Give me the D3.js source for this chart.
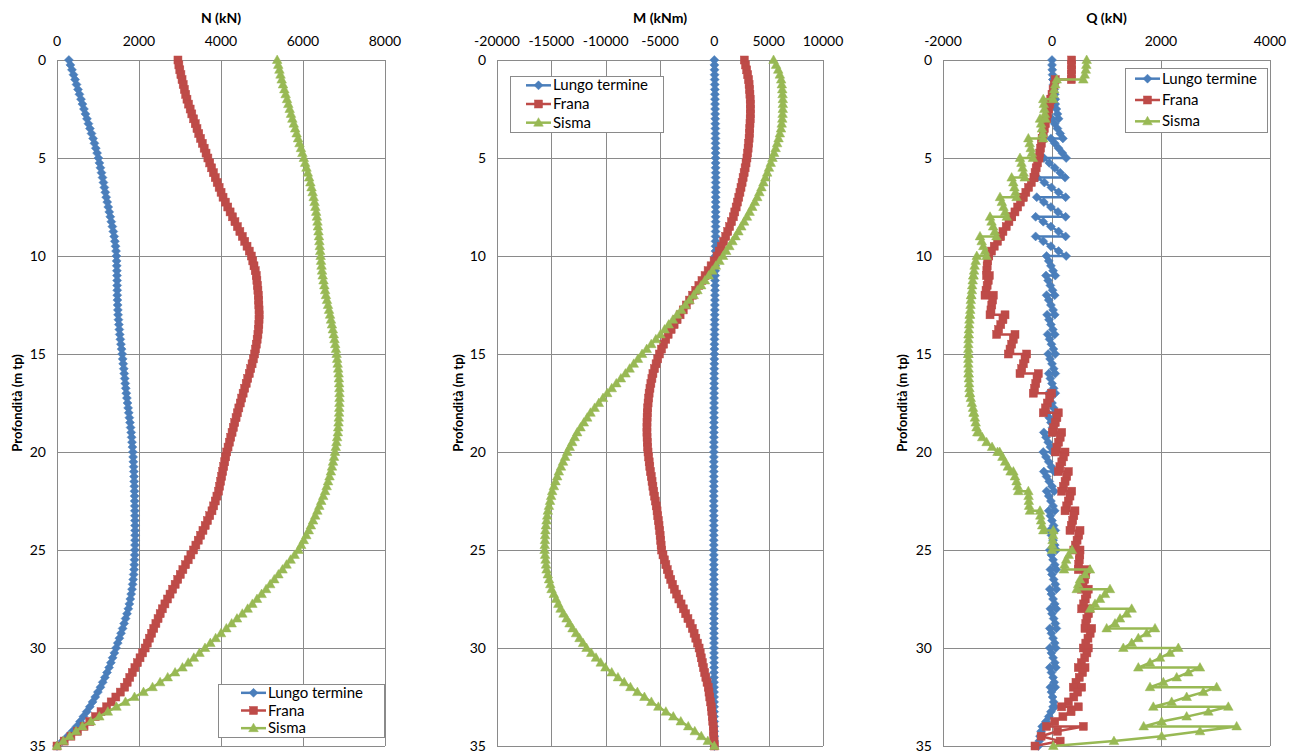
<!DOCTYPE html>
<html>
<head>
<meta charset="utf-8">
<script src="https://cdnjs.cloudflare.com/ajax/libs/d3/7.8.5/d3.min.js"></script>
<style>
  body { margin: 0; background: #fff; }
  text { font-family: Lato, "Liberation Sans", sans-serif; fill: #000; }
</style>
</head>
<body>
<svg id="chart" width="1290" height="754"></svg>
<script>
// depth of the N and M points (m)
const depth = [0,0.25,0.5,0.75,1,1.25,1.5,1.75,2,2.25,2.5,2.75,3,3.25,3.5,3.75,4,4.25,4.5,4.75,5,
  5.25,5.5,5.75,6,6.25,6.5,6.75,7,7.25,7.5,7.75,8,8.25,8.5,8.75,9,9.25,9.5,9.75,10,
  10.25,10.5,10.75,11,11.25,11.5,11.75,12,12.25,12.5,12.75,13,13.25,13.5,13.75,14,14.25,14.5,14.75,15,
  15.25,15.5,15.75,16,16.25,16.5,16.75,17,17.25,17.5,17.75,18,18.25,18.5,18.75,19,19.25,19.5,19.75,20,
  20.25,20.5,20.75,21,21.25,21.5,21.75,22,22.25,22.5,22.75,23,23.25,23.5,23.75,24,24.25,24.5,24.75,25,
  25.25,25.5,25.75,26,26.25,26.5,26.75,27,27.25,27.5,27.75,28,28.25,28.5,28.75,29,29.25,29.5,29.75,30,
  30.25,30.5,30.75,31,31.25,31.5,31.75,32,32.25,32.5,32.75,33,33.25,33.5,33.75,34,34.25,34.5,34.75,35];

// N (kN)
const nLungo = [290,327,364,402,440, 476,512,548,585, 621,657,694,730, 767,804,842,880, 913,946,978,1010,
  1035,1060,1085,1110, 1133,1155,1178,1200, 1225,1250,1275,1300, 1325,1350,1373,1395, 1412,1428,1440,1450,
  1454,1458,1461,1464, 1466,1467,1469,1470, 1474,1479,1484,1490, 1499,1509,1520,1530, 1545,1560,1575,1590,
  1602,1615,1628,1640, 1652,1665,1677,1690, 1705,1720,1735,1750, 1765,1780,1795,1810, 1820,1830,1840,1850,
  1857,1863,1869,1875, 1879,1883,1887,1890, 1893,1895,1898,1900, 1901,1903,1904,1905, 1905,1904,1902,1900,
  1896,1891,1886,1880, 1870,1858,1845,1830, 1810,1788,1765,1740, 1708,1673,1637,1600, 1562,1522,1481,1440,
  1399,1357,1314,1270, 1220,1168,1115,1060, 997,933,867,800, 724,645,563,480, 375,260,135,0];
const nFrana = [2950,2972,2995,3022,3050, 3078,3107,3138,3170, 3208,3248,3288,3330, 3372,3414,3457,3500, 3545,3590,3635,3680,
  3725,3770,3815,3860, 3907,3955,4002,4050, 4107,4165,4222,4280, 4340,4400,4460,4520, 4578,4635,4690,4740,
  4775,4805,4835,4860, 4875,4888,4900,4910, 4917,4923,4928,4930, 4928,4923,4913,4900, 4882,4862,4842,4820,
  4790,4758,4725,4690, 4652,4615,4578,4540, 4505,4470,4435,4400, 4368,4335,4302,4270, 4237,4205,4172,4140,
  4115,4090,4065,4040, 4015,3990,3965,3940, 3900,3860,3820,3780, 3725,3670,3615,3560, 3502,3445,3387,3330,
  3265,3200,3135,3070, 3007,2945,2882,2820, 2757,2695,2632,2570, 2517,2465,2412,2360, 2307,2255,2202,2150,
  2087,2025,1962,1900, 1837,1775,1712,1650, 1545,1435,1322,1210, 1075,938,800,660, 500,340,175,0];
const nSisma = [5370,5397,5425,5452,5480, 5512,5545,5577,5610, 5642,5675,5707,5740, 5775,5810,5845,5880, 5915,5950,5985,6020,
  6052,6085,6117,6150, 6180,6208,6235,6260, 6282,6302,6322,6340, 6353,6365,6378,6390, 6400,6410,6420,6430,
  6440,6452,6465,6480, 6500,6520,6540,6560, 6585,6610,6635,6660, 6683,6706,6728,6750, 6768,6786,6804,6820,
  6833,6846,6858,6870, 6876,6882,6887,6890, 6890,6888,6884,6880, 6873,6866,6858,6850, 6833,6816,6798,6780,
  6757,6732,6707,6680, 6647,6612,6577,6540, 6493,6445,6398,6350, 6298,6245,6192,6140, 6080,6018,5955,5890,
  5795,5697,5598,5500, 5400,5300,5200,5100, 4990,4878,4765,4650, 4520,4390,4260,4130, 4000,3870,3740,3610,
  3475,3338,3200,3060, 2880,2700,2515,2330, 2110,1890,1670,1450, 1240,1032,825,620, 465,310,155,0];

// M (kNm)
const mLungo = [0,8,16,24,32, 40,47,54,61, 68,74,80,86, 91,96,100,104, 108,111,114,117,
  119,121,123,124, 125,126,126,126, 126,125,124,122, 120,118,115,112, 109,105,101,97,
  92,88,83,78, 73,68,63,58, 53,48,43,38, 33,28,24,20, 16,12,8,4,
  1,-2,-5,-8, -11,-14,-17,-20, -23,-26,-28,-30, -32,-34,-36,-38, -40,-42,-43,-44,
  -45,-46,-47,-48, -49,-50,-50,-51, -51,-51,-52,-52, -52,-52,-52,-52, -51,-51,-50,-50,
  -49,-48,-47,-46, -45,-44,-43,-42, -41,-40,-39,-38, -37,-36,-35,-34, -33,-32,-31,-30,
  -29,-28,-27,-26, -25,-24,-23,-22, -21,-19,-17,-15, -13,-11,-9,-7, -5,-4,-2,0];
const mFrana = [2760,2870,2975,3065,3150, 3200,3240,3275,3300, 3310,3315,3312,3300, 3282,3260,3232,3200, 3155,3110,3058,3000,
  2920,2835,2745,2650, 2555,2455,2355,2250, 2130,2010,1883,1750, 1580,1405,1230,1050, 850,650,450,250,
  -20,-295,-570,-850, -1137,-1425,-1712,-2000, -2287,-2575,-2862,-3150, -3425,-3700,-3975,-4250, -4470,-4670,-4860,-5050,
  -5210,-5360,-5505,-5650, -5745,-5840,-5925,-6000, -6050,-6095,-6135,-6170, -6185,-6195,-6200,-6200, -6190,-6170,-6140,-6100,
  -6050,-5995,-5940,-5880, -5805,-5730,-5655,-5580, -5502,-5425,-5347,-5270, -5210,-5150,-5090,-5030, -4985,-4940,-4895,-4850,
  -4725,-4595,-4462,-4330, -4175,-4015,-3850,-3680, -3475,-3265,-3060,-2850, -2640,-2430,-2225,-2020, -1860,-1705,-1550,-1400,
  -1300,-1200,-1100,-1000, -890,-780,-670,-560, -490,-420,-350,-280, -235,-190,-145,-100, -75,-50,-25,0];
const mSisma = [5450,5680,5880,6030,6150, 6210,6250,6280,6300, 6305,6300,6280,6250, 6200,6135,6030,5910, 5780,5640,5500,5350,
  5190,5030,4865,4700, 4520,4335,4145,3950, 3720,3490,3245,3000, 2740,2480,2215,1950, 1665,1380,1090,800,
  470,140,-190,-520, -865,-1210,-1555,-1900, -2280,-2665,-3045,-3430, -3815,-4200,-4580,-4960, -5380,-5805,-6225,-6650,
  -7030,-7415,-7795,-8180, -8600,-9020,-9440,-9860, -10245,-10630,-11015,-11400, -11700,-12010,-12315,-12620, -12850,-13080,-13310,-13540,
  -13730,-13925,-14115,-14310, -14460,-14615,-14765,-14920, -15020,-15120,-15220,-15320, -15380,-15440,-15495,-15550, -15570,-15590,-15605,-15620,
  -15575,-15530,-15485,-15440, -15325,-15210,-15095,-14980, -14770,-14565,-14355,-14150, -13875,-13600,-13325,-13050, -12725,-12405,-12080,-11760,
  -11325,-10890,-10455,-10020, -9445,-8870,-8295,-7720, -7080,-6435,-5795,-5150, -4460,-3775,-3085,-2400, -1800,-1200,-600,0];

// depth of the Q points (m): every node is listed twice (value above / below)
const qDepth = [0,0.25,0.5,0.75,1, 1,1.25,1.5,1.75,2, 2,2.25,2.5,2.75,3, 3,3.25,3.5,3.75,4, 4,4.25,4.5,4.75,5,
  5,5.25,5.5,5.75,6, 6,6.25,6.5,6.75,7, 7,7.25,7.5,7.75,8, 8,8.25,8.5,8.75,9, 9,9.25,9.5,9.75,10,
  10,10.25,10.5,10.75,11, 11,11.25,11.5,11.75,12, 12,12.25,12.5,12.75,13, 13,13.25,13.5,13.75,14, 14,14.25,14.5,14.75,15,
  15,15.25,15.5,15.75,16, 16,16.25,16.5,16.75,17, 17,17.25,17.5,17.75,18, 18,18.25,18.5,18.75,19, 19,19.25,19.5,19.75,20,
  20,20.25,20.5,20.75,21, 21,21.25,21.5,21.75,22, 22,22.25,22.5,22.75,23, 23,23.25,23.5,23.75,24, 24,24.25,24.5,24.75,25,
  25,25.25,25.5,25.75,26, 26,26.25,26.5,26.75,27, 27,27.25,27.5,27.75,28, 28,28.25,28.5,28.75,29, 29,29.25,29.5,29.75,30,
  30,30.25,30.5,30.75,31, 31,31.25,31.5,31.75,32, 32,32.25,32.5,32.75,33, 33,33.25,33.5,33.75,34, 34,34.25,34.5,34.75,35];

// Q (kN)
const qLungo = [0,0,5,10,20, 20,30,40,50,60, 40,60,80,100,120, 0,50,100,150,200, -20,50,120,190,260,
  -150,-50,50,150,240, -270,-140,-10,120,250, -280,-150,-20,110,250, -300,-160,-20,120,250, -300,-160,-20,120,260,
  -100,-60,-20,20,60, -110,-70,-30,10,50, -100,-60,-20,20,50, -90,-55,-20,15,50, -80,-45,-10,25,60,
  -70,-35,0,30,60, -60,-30,0,30,60, -60,-30,0,30,60, -80,-50,-20,10,40, -150,-110,-70,-30,10,
  -160,-110,-60,-10,40, -150,-100,-50,0,40, -100,-60,-20,20,50, -60,-30,0,30,60, -40,-10,20,50,80,
  -40,-10,20,50,80, -30,0,30,60,80, -40,-10,20,50,80, -30,0,30,60,80, -40,-10,20,50,70,
  -40,-10,20,50,70, -40,-10,20,40,60, -30,-10,10,30,50, 20,-20,-60,-110,-160, -180,-200,-220,-235,-250];
const qFrana = [360,360,360,358,355, 60,40,20,0,-20, -20,-40,-60,-80,-100, -100,-120,-140,-160,-180, -180,-195,-210,-225,-240,
  -240,-265,-290,-310,-330, -330,-380,-430,-480,-530, -530,-580,-630,-680,-740, -740,-790,-840,-900,-950, -950,-1000,-1060,-1110,-1160,
  -1170,-1180,-1190,-1195,-1200, -1150,-1170,-1190,-1210,-1229, -1076,-1090,-1105,-1120,-1137, -862,-900,-940,-980,-1015, -679,-710,-740,-770,-801,
  -465,-495,-525,-556,-587, -251,-275,-298,-320,-343, -6,-45,-85,-120,-159, 116,90,60,30,5, 178,150,120,90,61,
  239,210,180,145,116, 300,270,240,210,178, 361,330,300,270,239, 422,400,380,355,330, 514,490,460,430,400,
  514,510,500,490,483, 636,620,600,570,544, 666,640,610,580,544, 697,670,640,620,605, 728,700,660,620,575,
  666,640,600,540,483, 606,560,500,440,391, 544,470,400,300,177, 483,350,200,50,-100, 575,100,-200,150,-312];
const qSisma = [636,630,620,600,575, 86,60,40,30,20, -160,-150,-140,-130,-120, -220,-200,-185,-170,-160, -434,-410,-390,-370,-350,
  -587,-560,-540,-520,-500, -740,-710,-690,-670,-650, -954,-920,-890,-860,-830, -1137,-1110,-1080,-1050,-1020, -1321,-1290,-1260,-1230,-1200,
  -1380,-1400,-1420,-1430,-1440, -1445,-1455,-1465,-1470,-1480, -1485,-1490,-1495,-1500,-1505, -1510,-1515,-1520,-1525,-1530, -1530,-1532,-1535,-1535,-1535,
  -1535,-1535,-1535,-1530,-1530, -1530,-1525,-1520,-1515,-1510, -1505,-1490,-1470,-1450,-1440, -1430,-1415,-1400,-1385,-1370, -1340,-1280,-1200,-1100,-1000,
  -960,-910,-860,-810,-760, -709,-680,-650,-630,-618, -434,-430,-425,-420,-404, -220,-215,-200,-180,-159, 25,20,10,5,0,
  367,306,260,230,220, 697,606,514,480,453, 1064,972,881,789,697, 1462,1370,1248,1156,1003, 1890,1737,1584,1462,1309,
  2318,2165,1982,1798,1584, 2715,2502,2288,2043,1798, 3021,2777,2471,2196,1859, 3235,2869,2471,2012,1682, 3388,2716,2012,1137,24];

const seriesNames = ["Lungo termine", "Frana", "Sisma"];
const seriesColors = ["#4A7EBB", "#BE4B48", "#98B954"];
const seriesMarkers = ["diamond", "square", "triangle"];

const nTicks = [0, 2000, 4000, 6000, 8000];
const mTicks = [-20000, -15000, -10000, -5000, 0, 5000, 10000];
const qTicks = [-2000, 0, 2000, 4000];
const depthTicks = [0, 5, 10, 15, 20, 25, 30, 35];

const panels = [
  { title: "N (kN)", left: 57, right: 385, ticks: nTicks, depth: depth,
    series: [nLungo, nFrana, nSisma], legend: { x: 218, y: 684, w: 166, h: 53, pad: 23 }, ylabelX: 17 },
  { title: "M (kNm)", left: 497, right: 823, ticks: mTicks, depth: depth,
    series: [mLungo, mFrana, mSisma], legend: { x: 510, y: 76, w: 153, h: 56, pad: 16 }, ylabelX: 458 },
  { title: "Q (kN)", left: 943, right: 1270, ticks: qTicks, depth: qDepth,
    series: [qLungo, qFrana, qSisma], legend: { x: 1125, y: 68, w: 142, h: 64, pad: 10 }, ylabelX: 902 }
];

const plotTop = 60, plotBottom = 746;
const svg = d3.select("#chart");
const y = d3.scaleLinear().domain([0, 35]).range([plotTop, plotBottom]);
const crisp = v => Math.round(v) + 0.5;

function drawMarker(g, type, color, cx, cy) {
  if (type === "diamond") {
    g.append("path").attr("d", `M${cx},${cy - 4.5}L${cx + 4.5},${cy}L${cx},${cy + 4.5}L${cx - 4.5},${cy}Z`)
      .attr("fill", color).attr("stroke", color).attr("stroke-width", 0.5);
  } else if (type === "square") {
    g.append("rect").attr("x", cx - 4).attr("y", cy - 4).attr("width", 8).attr("height", 8)
      .attr("fill", color).attr("stroke", color).attr("stroke-width", 0.5);
  } else {
    g.append("path").attr("d", `M${cx},${cy - 5}L${cx + 4.8},${cy + 3.5}L${cx - 4.8},${cy + 3.5}Z`)
      .attr("fill", color).attr("stroke", color).attr("stroke-width", 0.5);
  }
}

panels.forEach(p => {
  const ext = d3.extent(p.ticks);
  const x = d3.scaleLinear().domain(ext).range([p.left, p.right]);
  const g = svg.append("g");

  // grid
  g.selectAll(".vg").data(p.ticks).enter().append("line")
    .attr("x1", d => crisp(x(d))).attr("x2", d => crisp(x(d)))
    .attr("y1", plotTop).attr("y2", plotBottom).attr("stroke", "#8a8a8a").attr("stroke-width", 1);
  g.selectAll(".hg").data(depthTicks).enter().append("line")
    .attr("y1", d => crisp(y(d))).attr("y2", d => crisp(y(d)))
    .attr("x1", p.left).attr("x2", p.right).attr("stroke", "#8a8a8a").attr("stroke-width", 1);

  // tick labels
  g.selectAll(".xt").data(p.ticks).enter().append("text")
    .attr("x", d => x(d)).attr("y", 46).attr("text-anchor", "middle")
    .attr("font-size", 14).text(d => d);
  g.selectAll(".yt").data(depthTicks).enter().append("text")
    .attr("x", p.left - 11).attr("y", d => y(d) + 5).attr("text-anchor", "end")
    .attr("font-size", 14).text(d => d);

  // titles
  g.append("text").attr("x", (p.left + p.right) / 2).attr("y", 23).attr("text-anchor", "middle")
    .attr("font-size", 14).attr("font-weight", "bold").text(p.title);
  g.append("text").attr("transform", `translate(${p.ylabelX},${(plotTop + plotBottom) / 2}) rotate(-90)`)
    .attr("text-anchor", "middle").attr("dy", "0.35em")
    .attr("font-size", 13).attr("font-weight", "bold").text("Profondità (m tp)");

  // series
  p.series.forEach((vals, i) => {
    const pts = vals.map((v, k) => [x(v), y(p.depth[k])]);
    const sg = g.append("g");
    sg.append("path").attr("d", d3.line()(pts)).attr("fill", "none")
      .attr("stroke", seriesColors[i]).attr("stroke-width", 2.5).attr("stroke-linejoin", "round");
    pts.forEach(pt => drawMarker(sg, seriesMarkers[i], seriesColors[i], pt[0], pt[1]));
  });

  // legend
  const L = p.legend;
  const lg = g.append("g");
  lg.append("rect").attr("x", crisp(L.x)).attr("y", crisp(L.y)).attr("width", L.w).attr("height", L.h)
    .attr("fill", "#fff").attr("stroke", "#8a8a8a");
  const rowH = L.h / 3;
  seriesNames.forEach((name, i) => {
    const cy = L.y + rowH * (i + 0.5);
    lg.append("line").attr("x1", L.x + L.pad).attr("x2", L.x + L.pad + 25).attr("y1", cy).attr("y2", cy)
      .attr("stroke", seriesColors[i]).attr("stroke-width", 2.5);
    drawMarker(lg, seriesMarkers[i], seriesColors[i], L.x + L.pad + 12.5, cy);
    lg.append("text").attr("x", L.x + L.pad + 27).attr("y", cy + 5).attr("font-size", 15).text(name);
  });
});
</script>
</body>
</html>
